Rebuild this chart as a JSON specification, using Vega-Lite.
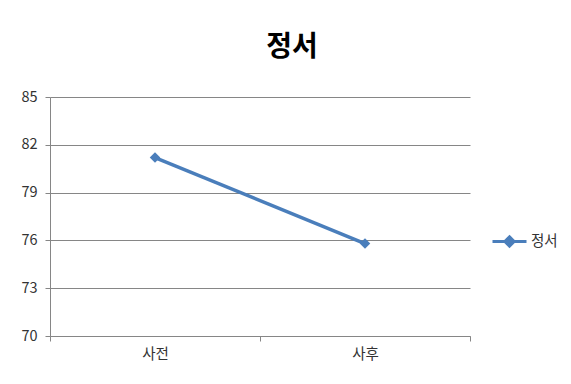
{
  "$schema": "https://vega.github.io/schema/vega-lite/v6.json",
  "width": 420,
  "height": 239,
  "autosize": {"type": "none"},
  "padding": {"left": 50, "top": 97, "right": 101, "bottom": 48},
  "background": "white",
  "title": {
    "text": "정서",
    "font": "Noto Sans CJK KR",
    "fontSize": 28,
    "fontWeight": "bold",
    "color": "#000000",
    "anchor": "middle",
    "dx": 32,
    "offset": 27
  },
  "data": {
    "values": [
      {"시점": "사전", "점수": 81.2, "계열": "정서"},
      {"시점": "사후", "점수": 75.8, "계열": "정서"}
    ]
  },
  "mark": {
    "type": "line",
    "strokeWidth": 3.5,
    "point": {"shape": "diamond", "size": 110, "filled": true, "color": "#4a7ebb"}
  },
  "encoding": {
    "x": {
      "field": "시점",
      "type": "nominal",
      "sort": ["사전", "사후"],
      "scale": {"paddingInner": 0, "paddingOuter": 0},
      "axis": {
        "title": null,
        "labelAngle": 0,
        "labelFont": "Noto Sans CJK KR",
        "labelFontSize": 14.5,
        "labelColor": "#333333",
        "labelPadding": 6,
        "tickBand": "extent",
        "tickSize": 5,
        "tickColor": "#868686",
        "domainColor": "#868686",
        "grid": false
      }
    },
    "y": {
      "field": "점수",
      "type": "quantitative",
      "scale": {"domain": [70, 85], "nice": false, "zero": false},
      "axis": {
        "title": null,
        "values": [70, 73, 76, 79, 82, 85],
        "labelFont": "Noto Sans CJK KR",
        "labelFontSize": 14.5,
        "labelColor": "#333333",
        "labelPadding": 8,
        "tickSize": 5,
        "tickColor": "#868686",
        "domainColor": "#868686",
        "gridColor": "#868686",
        "gridOpacity": 1
      }
    },
    "color": {
      "field": "계열",
      "type": "nominal",
      "scale": {"range": ["#4a7ebb"]},
      "legend": {
        "title": null,
        "orient": "none",
        "legendX": 441,
        "legendY": 126,
        "labelFont": "Noto Sans CJK KR",
        "labelFontSize": 14.5,
        "labelColor": "#333333",
        "symbolType": "M-1,0L1,0M0,-0.27L0.27,0L0,0.27L-0.27,0Z",
        "symbolSize": 1156,
        "symbolStrokeWidth": 3,
        "symbolFillColor": "#4a7ebb",
        "labelOffset": 3
      }
    }
  },
  "config": {"view": {"stroke": null}}
}
